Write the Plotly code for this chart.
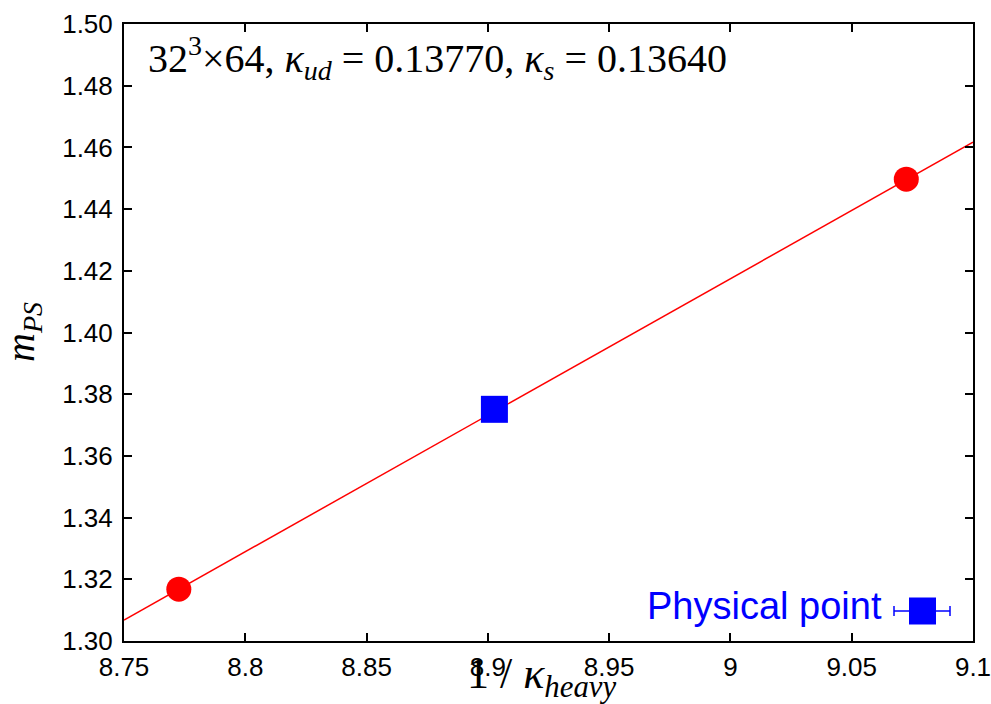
import plotly.graph_objects as go

# ---- data ----
heavy_x = [8.7726, 9.0725]          # 1/kappa_heavy of simulated points
heavy_y = [1.3168, 1.4497]          # m_PS
phys_x = [8.9027]                   # physical point
phys_y = [1.3751]
phys_xerr = [0.001]
fit_x = [8.75, 9.10]                # linear fit line
fit_y = [1.3068, 1.4617]

x_ticks = [8.75, 8.8, 8.85, 8.9, 8.95, 9.0, 9.05, 9.1]
x_ticktext = ["8.75", "8.8", "8.85", "8.9", "8.95", "9", "9.05", "9.1"]
y_ticks = [1.30, 1.32, 1.34, 1.36, 1.38, 1.40, 1.42, 1.44, 1.46, 1.48, 1.50]
y_ticktext = ["%.2f" % v for v in y_ticks]

RED = "#ff0000"
BLUE = "#0000ff"
SANS = "Arial, Liberation Sans, sans-serif"
SERIF = "Times New Roman, Liberation Serif, serif"

fig = go.Figure()
fig.add_trace(go.Scatter(x=fit_x, y=fit_y, mode="lines",
                         line=dict(color=RED, width=1.5), showlegend=False))
fig.add_trace(go.Scatter(x=heavy_x, y=heavy_y, mode="markers",
                         marker=dict(color=RED, size=25, symbol="circle"),
                         showlegend=False))
fig.add_trace(go.Scatter(x=phys_x, y=phys_y, mode="markers",
                         error_x=dict(type="data", array=phys_xerr, color=BLUE,
                                      thickness=1.5, width=4),
                         marker=dict(color=BLUE, size=27, symbol="square"),
                         showlegend=False))

axis_common = dict(showline=True, linecolor="black", linewidth=2, mirror="ticks",
                   ticks="inside", ticklen=8, tickwidth=2, tickcolor="black",
                   showgrid=False, zeroline=False, automargin=False,
                   ticklabeloverflow="allow",
                   tickfont=dict(family=SANS, size=26, color="black"))

fig.update_xaxes(range=[8.75, 9.1], tickvals=x_ticks, ticktext=x_ticktext,
                 ticklabelstandoff=2, **axis_common)
fig.update_yaxes(range=[1.30, 1.50], tickvals=y_ticks, ticktext=y_ticktext,
                 ticklabelstandoff=4, **axis_common)

L, R, T, B = 124, 973, 24, 641
def px(x):
    return (x - L) / (R - L)
def py(y):
    return (B - y) / (B - T)

# axis titles
fig.add_annotation(xref="paper", yref="paper", x=px(541), y=py(706),
                   xanchor="center", yanchor="bottom", showarrow=False,
                   text="1 / <i>κ</i><sub><i>heavy</i></sub>",
                   font=dict(family=SERIF, size=44, color="black"))
fig.add_annotation(xref="paper", yref="paper", x=px(-4), y=py(332),
                   xanchor="left", yanchor="middle", showarrow=False,
                   textangle=-90,
                   text="<i>m</i><sub><i>PS</i></sub>",
                   font=dict(family=SERIF, size=40, color="black"))

# header annotation
fig.add_annotation(xref="paper", yref="paper", x=px(146), y=py(28),
                   xanchor="left", yanchor="top", showarrow=False,
                   text="32<sup>3</sup>×64, <i>κ</i><sub><i>ud</i></sub> = 0.13770, "
                        "<i>κ</i><sub><i>s</i></sub> = 0.13640",
                   font=dict(family=SERIF, size=40, color="black"))

# legend: text then symbol with error bar
fig.add_annotation(xref="paper", yref="paper", x=px(884), y=py(606),
                   xanchor="right", yanchor="middle", showarrow=False,
                   text="Physical point",
                   font=dict(family=SANS, size=38, color=BLUE))
ly = py(611)
fig.add_shape(type="line", xref="paper", yref="paper", x0=px(894), x1=px(950),
              y0=ly, y1=ly, line=dict(color=BLUE, width=1.5))
for xe in (894, 950):
    fig.add_shape(type="line", xref="paper", yref="paper", x0=px(xe), x1=px(xe),
                  y0=py(606), y1=py(616), line=dict(color=BLUE, width=1.5))
fig.add_shape(type="rect", xref="paper", yref="paper",
              x0=px(909), x1=px(936), y0=py(624.5), y1=py(597.5),
              fillcolor=BLUE, line=dict(width=0))

fig.update_layout(width=991, height=704,
                  margin=dict(l=L, r=991 - R, t=T, b=704 - B),
                  paper_bgcolor="white", plot_bgcolor="white",
                  showlegend=False)

fig.write_html("out.html",
               config={"displayModeBar": False},
               post_script="document.body.style.margin='0';"
                           "document.body.style.overflow='hidden';")
